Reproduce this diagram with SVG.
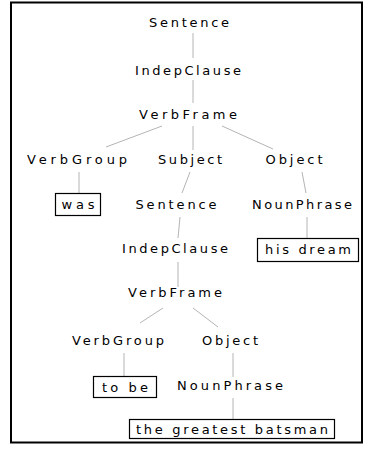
<svg xmlns="http://www.w3.org/2000/svg" width="368" height="454" viewBox="0 0 368 454">
<style>
text{font-family:"DejaVu Sans","Liberation Sans",sans-serif;font-size:13px;fill:#000;text-anchor:middle}
.c line{stroke:#b4b4b4;stroke-width:1}
.box{fill:#fff;stroke:#000;stroke-width:1.2}
</style>
<rect x="0" y="0" width="368" height="454" fill="#fff"/>
<rect x="11" y="2.5" width="351" height="440" fill="none" stroke="#000" stroke-width="2"/>
<g class="c">
<line x1="193" y1="33" x2="193" y2="58"/>
<line x1="193" y1="80" x2="193" y2="103"/>
<line x1="162" y1="126" x2="106" y2="147"/>
<line x1="193" y1="126" x2="193" y2="150"/>
<line x1="222" y1="126" x2="273" y2="149"/>
<line x1="79" y1="172" x2="79" y2="193"/>
<line x1="190" y1="172" x2="182" y2="193"/>
<line x1="302" y1="172" x2="306" y2="193"/>
<line x1="180" y1="217" x2="178" y2="238"/>
<line x1="307" y1="217" x2="307" y2="238"/>
<line x1="178" y1="262" x2="178" y2="287"/>
<line x1="163" y1="308" x2="140" y2="323"/>
<line x1="193" y1="308" x2="218" y2="327"/>
<line x1="124" y1="353" x2="124" y2="376"/>
<line x1="233" y1="353" x2="233" y2="377"/>
<line x1="233" y1="398" x2="233" y2="419"/>
</g>
<g id="n1"><text x="189" y="27" textLength="80" lengthAdjust="spacing">Sentence</text></g>
<g id="n2"><text x="188" y="75" textLength="106" lengthAdjust="spacing">IndepClause</text></g>
<g id="n3"><text x="188" y="119" textLength="98" lengthAdjust="spacing">VerbFrame</text></g>
<g id="n4"><text x="77" y="164" textLength="100" lengthAdjust="spacing">VerbGroup</text></g>
<g id="n5"><text x="190" y="164" textLength="64" lengthAdjust="spacing">Subject</text></g>
<g id="n6"><text x="294" y="164" textLength="57" lengthAdjust="spacing">Object</text></g>
<g id="n7"><rect class="box" x="55.5" y="193.5" width="45" height="22"/><text x="78" y="209" textLength="33" lengthAdjust="spacing">was</text></g>
<g id="n8"><text x="176" y="209" textLength="81" lengthAdjust="spacing">Sentence</text></g>
<g id="n9"><text x="302" y="209" textLength="100" lengthAdjust="spacing">NounPhrase</text></g>
<g id="n10"><text x="175" y="253" textLength="106" lengthAdjust="spacing">IndepClause</text></g>
<g id="n11"><rect class="box" x="257.5" y="238.5" width="101" height="23"/><text x="308" y="254" textLength="86" lengthAdjust="spacing">his dream</text></g>
<g id="n12"><text x="175" y="297" textLength="94" lengthAdjust="spacing">VerbFrame</text></g>
<g id="n13"><text x="118" y="345" textLength="92" lengthAdjust="spacing">VerbGroup</text></g>
<g id="n14"><text x="230" y="345" textLength="56" lengthAdjust="spacing">Object</text></g>
<g id="n15"><rect class="box" x="93.5" y="376.5" width="63" height="21"/><text x="125" y="392" textLength="46" lengthAdjust="spacing">to be</text></g>
<g id="n16"><text x="230" y="390" textLength="106" lengthAdjust="spacing">NounPhrase</text></g>
<g id="n17"><rect class="box" x="129.5" y="419.5" width="205" height="19"/><text x="232" y="434" textLength="192" lengthAdjust="spacing">the greatest batsman</text></g>
</svg>
